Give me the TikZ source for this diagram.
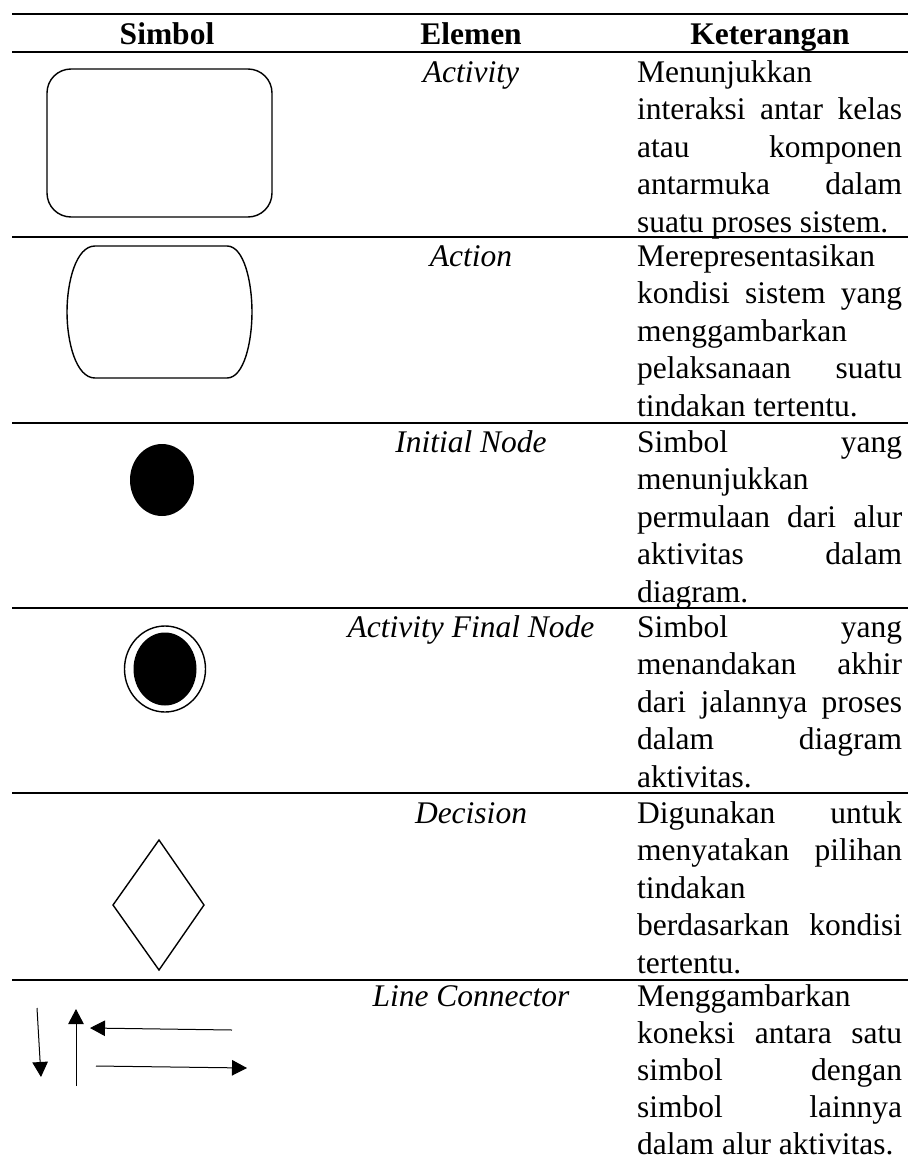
\documentclass[tikz,border=0pt]{standalone}
\usepackage{fontspec}
\setmainfont{Liberation Serif}
\usetikzlibrary{arrows.meta}
\tikzset{
  rule/.style={line width=1.6pt},
  shapeline/.style={line width=1.4pt},
  head/.style={font=\fontsize{31.5pt}{37.5pt}\selectfont\bfseries, anchor=base, inner sep=0pt},
  elem/.style={font=\fontsize{31.5pt}{37.5pt}\selectfont\itshape, anchor=base, inner sep=0pt},
  desc/.style={font=\fontsize{31.5pt}{37.5pt}\selectfont, anchor=base west, inner sep=0pt},
  conn/.style={line width=1pt, -{Triangle[length=15pt,width=15.5pt]}}
}
\newcommand{\J}[1]{\makebox[265pt][s]{#1}}
\begin{document}
\begin{tikzpicture}[x=1pt,y=-1pt]
\useasboundingbox (0,0) rectangle (908,1159);
% rules
\foreach \yy in {14,52,237,423,608,793,980}
  \draw[rule] (12,\yy) -- (908,\yy);
% header
\node[head] (hsim) at (167,44) {Simbol};
\node[head] (hel) at (471,44) {Elemen};
\node[head] (hket) at (770,44) {Keterangan};
% element names
\node[elem] (e1) at (471,82) {Activity};
\node[elem] (e2) at (471,266) {Action};
\node[elem] (e3) at (471,452) {Initial Node};
\node[elem] (e4) at (471,637) {Activity Final Node};
\node[elem] (e5) at (471,823) {Decision};
\node[elem] (e6) at (471,1006) {Line Connector};
% descriptions
\node[desc] (d1) at (637,82) {\parbox[t]{265pt}{Menunjukkan\\\J{interaksi antar kelas}\\\J{atau komponen}\\\J{antarmuka dalam}\\suatu proses sistem.}};
\node[desc] (d2) at (637,266) {\parbox[t]{265pt}{Merepresentasikan\\\J{kondisi sistem yang}\\menggambarkan\\\J{pelaksanaan suatu}\\tindakan tertentu.}};
\node[desc] (d3) at (637,452) {\parbox[t]{265pt}{\J{Simbol yang}\\menunjukkan\\\J{permulaan dari alur}\\\J{aktivitas dalam}\\diagram.}};
\node[desc] (d4) at (637,637) {\parbox[t]{265pt}{\J{Simbol yang}\\\J{menandakan akhir}\\\J{dari jalannya proses}\\\J{dalam diagram}\\aktivitas.}};
\node[desc] (d5) at (637,823) {\parbox[t]{265pt}{\J{Digunakan untuk}\\\J{menyatakan pilihan}\\tindakan\\\J{berdasarkan kondisi}\\tertentu.}};
\node[desc] (d6) at (637,1006) {\parbox[t]{265pt}{\fontsize{31.5pt}{37pt}\selectfont Menggambarkan\\\J{koneksi antara satu}\\\J{simbol dengan}\\\J{simbol lainnya}\\dalam alur aktivitas.}};
% symbols
\draw[shapeline, rounded corners=24pt] (47,69) rectangle (272,217);
\draw[shapeline] (95,246) -- (227,246)
  .. controls (244,246) and (252,282) .. (252,312)
  .. controls (252,342) and (244,378) .. (227,378)
  -- (95,378)
  .. controls (76,378) and (67,342) .. (67,312)
  .. controls (67,282) and (76,246) .. (95,246) -- cycle;
\fill (162,480) ellipse [x radius=32pt, y radius=36pt];
\draw[shapeline] (165,669) ellipse [x radius=40.5pt, y radius=43pt];
\fill (165,669) ellipse [x radius=31.5pt, y radius=36.5pt];
\draw[shapeline] (159,840) -- (204,905) -- (159,970) -- (113,905) -- cycle;
% connectors
\coordinate (a1s) at (37,1008); \coordinate (a1e) at (41,1077);
\coordinate (a2s) at (76,1086); \coordinate (a2e) at (76,1009);
\coordinate (a3s) at (232,1030); \coordinate (a3e) at (90,1028);
\coordinate (a4s) at (96,1066); \coordinate (a4e) at (247,1068);
\draw[conn] (a1s) -- (a1e);
\draw[conn] (a2s) -- (a2e);
\draw[conn] (a3s) -- (a3e);
\draw[conn] (a4s) -- (a4e);
\end{tikzpicture}
\end{document}
